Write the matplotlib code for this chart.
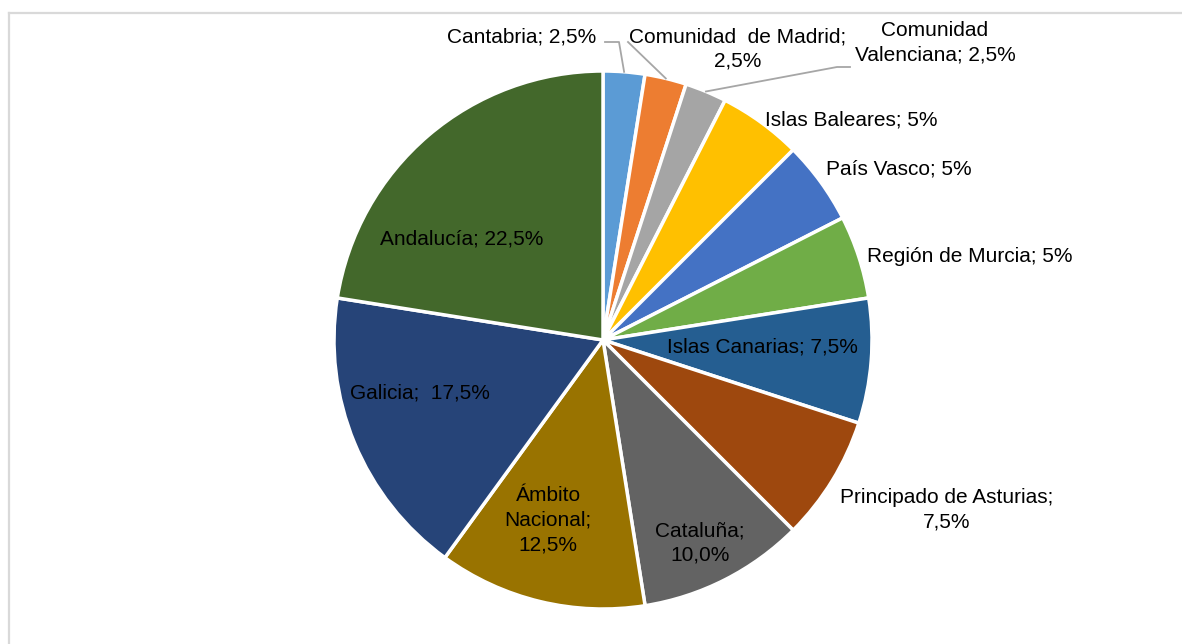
import numpy as np
import matplotlib.pyplot as plt
from matplotlib.lines import Line2D

plt.rcParams['font.family'] = ['Liberation Sans', 'DejaVu Sans']

# Datos: reparto por ámbito territorial (%)
regiones = ["Cantabria", "Comunidad  de Madrid", "Comunidad\nValenciana",
            "Islas Baleares", "País Vasco", "Región de Murcia",
            "Islas Canarias", "Principado de Asturias", "Cataluña",
            "Ámbito\nNacional", "Galicia", "Andalucía"]
porcentajes = [2.5, 2.5, 2.5, 5, 5, 5, 7.5, 7.5, 10.0, 12.5, 17.5, 22.5]
decimales = [1, 1, 1, 0, 0, 0, 1, 1, 1, 1, 1, 1]
separadores = ["; ", ";\n", "; ", "; ", "; ", "; ", "; ", ";\n", ";\n", ";\n", ";  ", "; "]
colores = ["#5B9BD5", "#ED7D31", "#A5A5A5", "#FFC000", "#4472C4", "#70AD47",
           "#255E91", "#9E480E", "#636363", "#997300", "#264478", "#43682B"]

W, H = 1182, 644
cx, cy, R = 603, H - 340, 269

# posiciones de las etiquetas (px, desde arriba)
pos_etiquetas = [(522, 37), (738, 49), (935, 43), (851, 120), (899, 169), (970, 256),
                 (762, 347), (947, 510), (700, 543), (548, 520), (420, 393), (462, 239)]
# codos de las líneas guía para las etiquetas exteriores pequeñas
guias = {0: [(605, 42), (619, 42)], 1: [(628, 42)], 2: [(850, 67), (837, 67)]}

fig = plt.figure(figsize=(W / 100, H / 100), dpi=100)
ax = fig.add_axes([0, 0, 1, 1])

ax.pie(porcentajes, colors=colores, startangle=90, counterclock=False,
       center=(cx, cy), radius=R,
       wedgeprops=dict(edgecolor="white", linewidth=2.5))
ax.set_xlim(0, W)
ax.set_ylim(0, H)
ax.set_aspect("equal")
ax.axis("off")

# marco gris del gráfico
fig.add_artist(Line2D([9.5 / W, 1.01], [1 - 13 / H, 1 - 13 / H], color="#D9D9D9", lw=1.6))
fig.add_artist(Line2D([9.5 / W, 9.5 / W], [-0.01, 1 - 13 / H], color="#D9D9D9", lw=1.6))

acum = np.cumsum([0] + porcentajes)
for i, (nombre, v) in enumerate(zip(regiones, porcentajes)):
    txt = nombre + separadores[i] + f"{v:.{decimales[i]}f}".replace(".", ",") + "%"
    x, y = pos_etiquetas[i]
    ax.text(x, H - y, txt, ha="center", va="center", fontsize=15,
            color="black", linespacing=1.37)
    if i in guias:
        ang = np.deg2rad((acum[i] + v / 2) * 3.6)
        pts = [(px, H - py) for px, py in guias[i]]
        pts.append((cx + R * np.sin(ang), cy + R * np.cos(ang)))
        xs, ys = zip(*pts)
        ax.plot(xs, ys, color="#A6A6A6", lw=1.3)

fig.savefig("out.png", dpi=100)
